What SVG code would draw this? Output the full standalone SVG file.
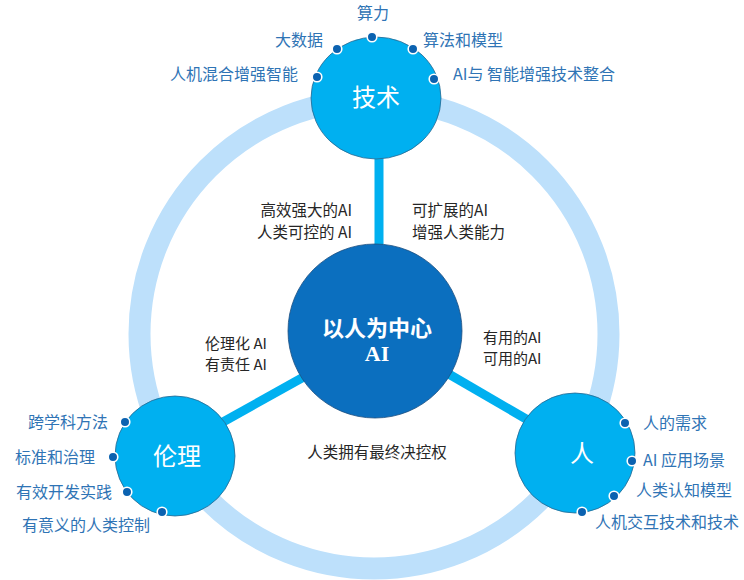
<svg xmlns="http://www.w3.org/2000/svg" width="744" height="580" viewBox="0 0 744 580">
<style>
.ring{fill:none;stroke:#bde0fb;stroke-width:22}
.bar{stroke:#00b0f0;stroke-width:9;fill:none}
.node{fill:#00b0f0;stroke:#2a6890;stroke-width:0.8}
.core{fill:#0b6fbf;stroke:#1d4f80;stroke-width:0.8}
.dot{fill:#0b62b0;stroke:#ffffff;stroke-width:1.6}
.lbl{font-family:"Noto Sans CJK SC","Liberation Sans",sans-serif;font-size:16px;fill:#2f74b5}
.mid{font-family:"Noto Sans CJK SC","Liberation Sans",sans-serif;font-size:15.5px;fill:#262626}
.mid2{font-family:"Noto Sans CJK SC","Liberation Sans",sans-serif;font-size:15px;fill:#262626}
.title{font-family:"Noto Sans CJK SC","Liberation Sans",sans-serif;font-size:24px;fill:#ffffff;text-anchor:middle}
.core-t{font-family:"Noto Sans CJK SC","Liberation Sans",sans-serif;font-size:22px;font-weight:bold;fill:#ffffff;text-anchor:middle}
.core-ai{font-family:"Liberation Serif",serif;font-size:22px;font-weight:bold;fill:#ffffff;text-anchor:middle}
</style>
<circle class="ring" cx="374" cy="334" r="234.5"/>
<g id="connectors">
<line class="bar" x1="379" y1="150" x2="379" y2="250"/>
<line class="bar" x1="318" y1="369" x2="205" y2="432"/>
<line class="bar" x1="435" y1="366" x2="545" y2="430"/>
</g>
<g id="node-tech">
<ellipse class="node" cx="376" cy="98" rx="65" ry="61"/>
<text class="title" x="376" y="106">技术</text>
<circle class="dot" cx="372" cy="37" r="4.8"/>
<circle class="dot" cx="337" cy="49" r="4.8"/>
<circle class="dot" cx="413" cy="49" r="4.8"/>
<circle class="dot" cx="317" cy="77" r="4.8"/>
<circle class="dot" cx="434" cy="79" r="4.8"/>
<text class="lbl" x="373" y="19" text-anchor="middle">算力</text>
<text class="lbl" x="323" y="46" text-anchor="end">大数据</text>
<text class="lbl" x="423" y="46">算法和模型</text>
<text class="lbl" x="298" y="80" text-anchor="end">人机混合增强智能</text>
<text class="lbl" x="453" y="80">AI与 智能增强技术整合</text>
</g>
<g id="node-core">
<circle class="core" cx="375" cy="331" r="87"/>
<text class="core-t" x="377" y="336">以人为中心</text>
<text class="core-ai" x="377" y="361">AI</text>
</g>
<g id="node-ethics">
<circle class="node" cx="175" cy="456" r="60"/>
<text class="title" x="177" y="465">伦理</text>
<circle class="dot" cx="125" cy="422" r="4.8"/>
<circle class="dot" cx="113" cy="457" r="4.8"/>
<circle class="dot" cx="127" cy="492" r="4.8"/>
<circle class="dot" cx="162" cy="512" r="4.8"/>
<text class="lbl" x="108" y="428" text-anchor="end">跨学科方法</text>
<text class="lbl" x="95" y="463" text-anchor="end">标准和治理</text>
<text class="lbl" x="112" y="498" text-anchor="end">有效开发实践</text>
<text class="lbl" x="150" y="531" text-anchor="end">有意义的人类控制</text>
</g>
<g id="node-people">
<circle class="node" cx="575" cy="453" r="60"/>
<text class="title" x="582" y="462">人</text>
<circle class="dot" cx="625" cy="423" r="4.8"/>
<circle class="dot" cx="632" cy="461" r="4.8"/>
<circle class="dot" cx="614" cy="496" r="4.8"/>
<circle class="dot" cx="582" cy="512" r="4.8"/>
<text class="lbl" x="643" y="429">人的需求</text>
<text class="lbl" x="643" y="466">AI 应用场景</text>
<text class="lbl" x="636" y="496">人类认知模型</text>
<text class="lbl" x="595" y="528">人机交互技术和技术</text>
</g>
<g id="mid-labels">
<text class="mid" x="352" y="216" text-anchor="end">高效强大的AI</text>
<text class="mid" x="352" y="238" text-anchor="end">人类可控的 AI</text>
<text class="mid" x="412" y="216">可扩展的AI</text>
<text class="mid" x="412" y="238">增强人类能力</text>
<text class="mid2" x="267" y="349" text-anchor="end">伦理化 AI</text>
<text class="mid2" x="267" y="370" text-anchor="end">有责任 AI</text>
<text class="mid2" x="483" y="343">有用的AI</text>
<text class="mid2" x="483" y="364">可用的AI</text>
<text class="mid" x="377" y="458" text-anchor="middle">人类拥有最终决控权</text>
</g>
</svg>
